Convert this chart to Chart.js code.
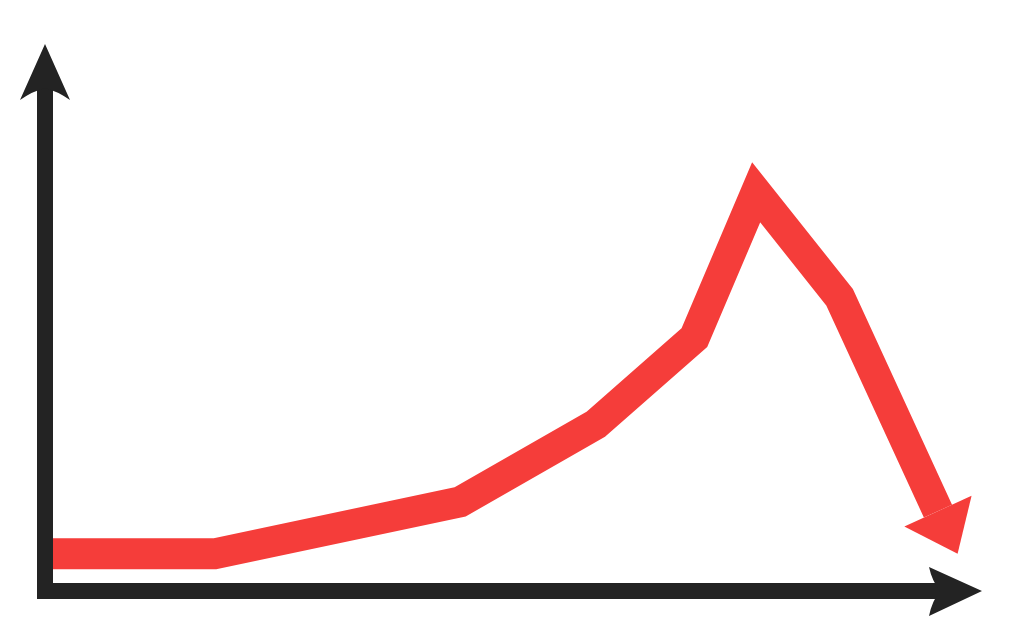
<!DOCTYPE html>
<html lang="en">

<head>
    <meta charset="UTF-8">
    <title>Rise and fall</title>
    <script src="https://cdn.jsdelivr.net/npm/chart.js"></script>
    <style>
        html, body {
            margin: 0;
            padding: 0;
            background: #ffffff;
        }

        .chart-container {
            position: relative;
            width: 1024px;
            height: 639px;
        }
    </style>
</head>

<body>
    <div class="chart-container">
        <canvas id="trendChart"></canvas>
    </div>
    <script>
        // Data (axis units 0..10 on both axes)
        var trendX = [0, 1.81, 4.43, 5.88, 6.93, 7.59, 8.48, 9.53];
        var trendY = [0.68, 0.68, 1.63, 3.05, 4.63, 7.29, 5.37, 1.46];
        var axisMax = 10;

        var red = '#f53d3a';
        var dark = '#232323';

        // Arrow heads and the two axes, placed through the chart's scales
        var arrowPlugin = {
            id: 'arrows',
            afterDatasetsDraw: function (chart) {
                var ctx = chart.ctx;
                var xs = chart.scales.x;
                var ys = chart.scales.y;

                // head at the end of the red line
                var pts = chart.getDatasetMeta(0).data;
                var a = pts[pts.length - 2], b = pts[pts.length - 1];
                var dx = b.x - a.x, dy = b.y - a.y;
                var len = Math.sqrt(dx * dx + dy * dy);
                var ux = dx / len, uy = dy / len;
                var headLen = 47, half = 37;
                ctx.save();
                ctx.fillStyle = red;
                ctx.beginPath();
                ctx.moveTo(b.x + ux * headLen, b.y + uy * headLen);
                ctx.lineTo(b.x - uy * half, b.y + ux * half);
                ctx.lineTo(b.x + uy * half, b.y - ux * half);
                ctx.closePath();
                ctx.fill();

                // axes
                var x0 = xs.getPixelForValue(0);
                var y0 = ys.getPixelForValue(0);
                var xEnd = xs.getPixelForValue(axisMax);
                var yEnd = ys.getPixelForValue(axisMax);

                ctx.strokeStyle = dark;
                ctx.fillStyle = dark;
                ctx.lineWidth = 16;
                ctx.lineCap = 'butt';
                ctx.beginPath();
                ctx.moveTo(x0 - 8, y0);
                ctx.lineTo(xEnd - 40, y0);
                ctx.moveTo(x0, y0 + 8);
                ctx.lineTo(x0, yEnd + 44);
                ctx.stroke();

                // x arrow head
                ctx.beginPath();
                ctx.moveTo(xEnd, y0);
                ctx.lineTo(xEnd - 53, y0 - 24);
                ctx.quadraticCurveTo(xEnd - 50, y0 - 10, xEnd - 42, y0);
                ctx.quadraticCurveTo(xEnd - 50, y0 + 10, xEnd - 53, y0 + 25);
                ctx.closePath();
                ctx.fill();

                // y arrow head
                ctx.beginPath();
                ctx.moveTo(x0, yEnd);
                ctx.lineTo(x0 + 25, yEnd + 56);
                ctx.quadraticCurveTo(x0 + 12, yEnd + 47, x0, yEnd + 44);
                ctx.quadraticCurveTo(x0 - 12, yEnd + 47, x0 - 25, yEnd + 56);
                ctx.closePath();
                ctx.fill();
                ctx.restore();
            }
        };

        var points = trendX.map(function (x, i) {
            return { x: x, y: trendY[i] };
        });

        var trendChart = new Chart(document.getElementById('trendChart'), {
            type: 'line',
            data: {
                datasets: [{
                    data: points,
                    borderColor: red,
                    borderWidth: 31,
                    borderJoinStyle: 'miter',
                    borderCapStyle: 'butt',
                    tension: 0,
                    pointRadius: 0,
                    fill: false,
                    clip: false
                }]
            },
            options: {
                responsive: true,
                maintainAspectRatio: false,
                animation: false,
                layout: {
                    padding: { left: 45, right: 42, top: 44, bottom: 48 }
                },
                plugins: {
                    legend: { display: false },
                    tooltip: { enabled: false }
                },
                scales: {
                    x: { type: 'linear', min: 0, max: axisMax, display: false },
                    y: { type: 'linear', min: 0, max: axisMax, display: false }
                }
            },
            plugins: [arrowPlugin]
        });
    </script>
</body>

</html>
